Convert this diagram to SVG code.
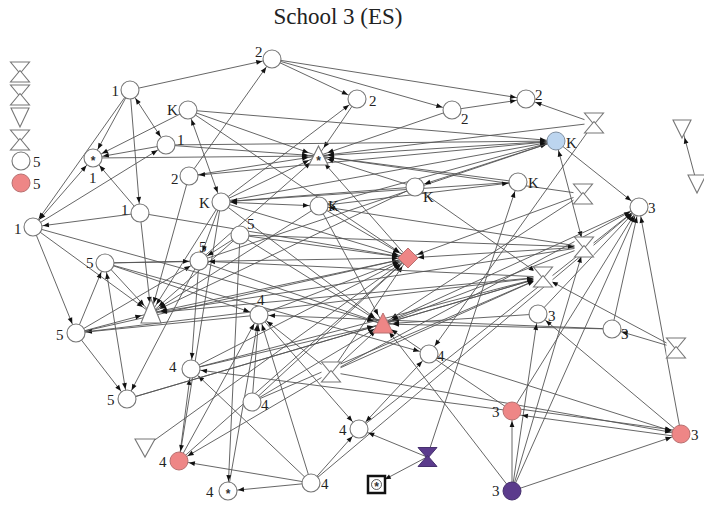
<svg xmlns="http://www.w3.org/2000/svg" xmlns:xlink="http://www.w3.org/1999/xlink" width="704" height="511" viewBox="0 0 704 511">
<style>
.c{fill:#fff;stroke:#777;stroke-width:1.1}
.p{fill:#ee8686;stroke:#b87070;stroke-width:1}
.bl{fill:#bcd5ef;stroke:#7f8fa0;stroke-width:1}
.pu{fill:#5b3b8c;stroke:#46306e;stroke-width:1}
.l{font-family:"Liberation Serif","Times New Roman",serif;font-size:15px;fill:#222}
.t{font-family:"Liberation Serif","Times New Roman",serif;font-size:23px;fill:#222}
.s{font-family:"Liberation Sans",Arial,sans-serif;font-size:12px;font-weight:bold;fill:#333;text-anchor:middle}
#edges line{stroke:#555;stroke-width:0.9;marker-end:url(#ah)}
#edges line.b{marker-start:url(#ah)}
</style>
<defs>
<marker id="ah" viewBox="-20 -5 30 10" refX="10" refY="0" markerWidth="30" markerHeight="10" markerUnits="userSpaceOnUse" orient="auto-start-reverse"><path d="M0,0L-6,-2.4L-6,2.4Z" fill="#111"/></marker>
<g id="hg"><rect x="-9.5" y="-10" width="19" height="20" fill="#fff"/><path class="c" d="M-9.5,-10H9.5L0,1.5Z"/><path class="c" d="M0,-1.5L9.5,10H-9.5Z"/></g>
</defs>
<rect width="704" height="511" fill="#fff"/>
<text class="t" x="338" y="24" text-anchor="middle">School 3 (ES)</text>
<g id="legend">
<use xlink:href="#hg" x="20" y="72"/>
<use xlink:href="#hg" x="20" y="95"/>
<path class="c" d="M11,108H29L20,127Z"/>
<use xlink:href="#hg" x="20" y="140"/>
<circle class="c" cx="21" cy="161" r="9"/><text class="l" x="33" y="167">5</text>
<circle class="p" cx="21" cy="183" r="9"/><text class="l" x="33" y="189">5</text>
</g>
<g id="edges">
<line x1="130" y1="90" x2="272" y2="59"/>
<line x1="189" y1="176" x2="272" y2="59"/>
<line x1="272" y1="59" x2="357" y2="99"/>
<line x1="272" y1="59" x2="452" y2="110"/>
<line x1="272" y1="59" x2="526" y2="99"/>
<line x1="452" y1="110" x2="526" y2="99"/>
<line x1="594" y1="123" x2="526" y2="99"/>
<line x1="357" y1="99" x2="318" y2="156"/>
<line x1="452" y1="110" x2="318" y2="156"/>
<line x1="221" y1="202" x2="357" y2="99"/>
<line x1="130" y1="90" x2="93" y2="158"/>
<line x1="130" y1="90" x2="33" y2="227"/>
<line class="b" x1="130" y1="90" x2="166" y2="145"/>
<line x1="130" y1="90" x2="140" y2="213"/>
<line x1="188" y1="110" x2="93" y2="158"/>
<line x1="188" y1="110" x2="318" y2="156"/>
<line x1="188" y1="110" x2="556" y2="141"/>
<line class="b" x1="188" y1="110" x2="221" y2="202"/>
<line x1="166" y1="145" x2="93" y2="158"/>
<line x1="166" y1="145" x2="318" y2="156"/>
<line x1="33" y1="227" x2="166" y2="145"/>
<line class="b" x1="33" y1="227" x2="93" y2="158"/>
<line x1="140" y1="213" x2="93" y2="158"/>
<line x1="140" y1="213" x2="33" y2="227"/>
<line x1="140" y1="213" x2="151" y2="313"/>
<line x1="140" y1="213" x2="408" y2="258"/>
<line x1="556" y1="141" x2="318" y2="156"/>
<line x1="594" y1="123" x2="318" y2="156"/>
<line x1="415" y1="187" x2="318" y2="156"/>
<line x1="518" y1="182" x2="318" y2="156"/>
<line x1="583" y1="194" x2="318" y2="156"/>
<line x1="189" y1="176" x2="318" y2="156"/>
<line x1="93" y1="158" x2="318" y2="156"/>
<line x1="221" y1="202" x2="318" y2="156"/>
<line x1="408" y1="258" x2="318" y2="156"/>
<line x1="556" y1="141" x2="189" y2="176"/>
<line x1="221" y1="202" x2="556" y2="141"/>
<line x1="166" y1="145" x2="556" y2="141"/>
<line x1="319" y1="206" x2="556" y2="141"/>
<line x1="199" y1="261" x2="556" y2="141"/>
<line x1="556" y1="141" x2="639" y2="207"/>
<line class="b" x1="556" y1="141" x2="584" y2="247"/>
<line x1="556" y1="141" x2="415" y2="187"/>
<line x1="415" y1="187" x2="221" y2="202"/>
<line class="b" x1="221" y1="202" x2="319" y2="206"/>
<line x1="518" y1="182" x2="221" y2="202"/>
<line x1="319" y1="206" x2="518" y2="182"/>
<line x1="221" y1="202" x2="408" y2="258"/>
<line x1="240" y1="235" x2="408" y2="258"/>
<line x1="105" y1="263" x2="408" y2="258"/>
<line x1="319" y1="206" x2="408" y2="258"/>
<line x1="259" y1="315" x2="408" y2="258"/>
<line x1="191" y1="369" x2="408" y2="258"/>
<line x1="331" y1="372" x2="408" y2="258"/>
<line x1="252" y1="402" x2="408" y2="258"/>
<line x1="583" y1="194" x2="408" y2="258"/>
<line x1="584" y1="247" x2="408" y2="258"/>
<line x1="76" y1="333" x2="408" y2="258"/>
<line x1="188" y1="110" x2="408" y2="258"/>
<line x1="179" y1="461" x2="408" y2="258"/>
<line x1="408" y1="258" x2="151" y2="313"/>
<line x1="33" y1="227" x2="151" y2="313"/>
<line x1="105" y1="263" x2="151" y2="313"/>
<line x1="76" y1="333" x2="151" y2="313"/>
<line x1="189" y1="176" x2="151" y2="313"/>
<line x1="221" y1="202" x2="151" y2="313"/>
<line x1="240" y1="235" x2="151" y2="313"/>
<line x1="319" y1="206" x2="151" y2="313"/>
<line x1="415" y1="187" x2="151" y2="313"/>
<line x1="543" y1="277" x2="151" y2="313"/>
<line x1="584" y1="247" x2="151" y2="313"/>
<line x1="199" y1="261" x2="383" y2="324"/>
<line x1="240" y1="235" x2="383" y2="324"/>
<line x1="612" y1="329" x2="259" y2="315"/>
<line x1="543" y1="277" x2="383" y2="324"/>
<line x1="538" y1="314" x2="383" y2="324"/>
<line x1="612" y1="329" x2="383" y2="324"/>
<line x1="583" y1="194" x2="383" y2="324"/>
<line x1="584" y1="247" x2="383" y2="324"/>
<line x1="639" y1="207" x2="383" y2="324"/>
<line x1="331" y1="372" x2="383" y2="324"/>
<line x1="252" y1="402" x2="383" y2="324"/>
<line x1="512" y1="411" x2="383" y2="324"/>
<line x1="512" y1="491" x2="383" y2="324"/>
<line x1="319" y1="206" x2="383" y2="324"/>
<line x1="221" y1="202" x2="383" y2="324"/>
<line x1="594" y1="123" x2="429" y2="354"/>
<line x1="105" y1="263" x2="429" y2="354"/>
<line class="b" x1="359" y1="429" x2="429" y2="354"/>
<line x1="429" y1="354" x2="681" y2="434"/>
<line x1="512" y1="411" x2="191" y2="369"/>
<line x1="331" y1="372" x2="681" y2="434"/>
<line x1="681" y1="434" x2="639" y2="207"/>
<line x1="612" y1="329" x2="639" y2="207"/>
<line x1="538" y1="314" x2="639" y2="207"/>
<line x1="512" y1="411" x2="639" y2="207"/>
<line x1="512" y1="491" x2="639" y2="207"/>
<line x1="311" y1="483" x2="639" y2="207"/>
<line x1="359" y1="429" x2="639" y2="207"/>
<line x1="681" y1="434" x2="538" y2="314"/>
<line x1="512" y1="491" x2="512" y2="411"/>
<line x1="512" y1="491" x2="538" y2="314"/>
<line x1="512" y1="491" x2="584" y2="247"/>
<line x1="512" y1="491" x2="681" y2="434"/>
<line x1="512" y1="408" x2="681" y2="431"/>
<line x1="681" y1="437" x2="512" y2="414"/>
<line x1="676" y1="348" x2="612" y2="329"/>
<line x1="676" y1="348" x2="543" y2="277"/>
<line x1="179" y1="461" x2="259" y2="315"/>
<line x1="228" y1="491" x2="259" y2="315"/>
<line x1="311" y1="483" x2="259" y2="315"/>
<line x1="252" y1="402" x2="259" y2="315"/>
<line x1="331" y1="372" x2="259" y2="315"/>
<line x1="259" y1="315" x2="359" y2="429"/>
<line x1="259" y1="315" x2="76" y2="333"/>
<line x1="105" y1="263" x2="259" y2="315"/>
<line x1="199" y1="261" x2="191" y2="369"/>
<line x1="179" y1="461" x2="191" y2="369"/>
<line x1="311" y1="483" x2="191" y2="369"/>
<line x1="127" y1="399" x2="383" y2="324"/>
<line x1="127" y1="399" x2="543" y2="277"/>
<line x1="240" y1="235" x2="228" y2="491"/>
<line x1="311" y1="483" x2="228" y2="491"/>
<line x1="311" y1="483" x2="179" y2="461"/>
<line x1="311" y1="483" x2="359" y2="429"/>
<line x1="427" y1="457" x2="359" y2="429"/>
<line x1="427" y1="457" x2="376" y2="484"/>
<line x1="427" y1="457" x2="518" y2="182"/>
<line x1="145" y1="447" x2="408" y2="258"/>
<line x1="331" y1="372" x2="179" y2="461"/>
<line x1="221" y1="202" x2="179" y2="461"/>
<line x1="105" y1="263" x2="199" y2="261"/>
<line x1="240" y1="235" x2="199" y2="261"/>
<line x1="221" y1="202" x2="199" y2="261"/>
<line x1="76" y1="333" x2="199" y2="261"/>
<line x1="76" y1="333" x2="105" y2="263"/>
<line class="b" x1="127" y1="399" x2="105" y2="263"/>
<line x1="76" y1="333" x2="127" y2="399"/>
<line x1="199" y1="261" x2="127" y2="399"/>
<line x1="33" y1="227" x2="76" y2="333"/>
<line x1="33" y1="227" x2="383" y2="324"/>
<line x1="76" y1="333" x2="543" y2="277"/>
<line x1="191" y1="369" x2="543" y2="277"/>
<line x1="252" y1="402" x2="543" y2="277"/>
<line x1="331" y1="372" x2="543" y2="277"/>
<line x1="415" y1="187" x2="543" y2="277"/>
<line x1="543" y1="277" x2="199" y2="261"/>
<line x1="240" y1="235" x2="584" y2="247"/>
<line x1="584" y1="247" x2="319" y2="206"/>
<line x1="191" y1="369" x2="383" y2="324"/>
<line x1="697" y1="184" x2="682" y2="128"/>
<line x1="331" y1="372" x2="639" y2="207"/>
<line x1="199" y1="261" x2="318" y2="156"/>
</g>
<g id="n1a"><circle class="c" cx="130" cy="90" r="9"/><text class="l" x="119" y="96" text-anchor="end">1</text></g>
<g id="n2a"><circle class="c" cx="272" cy="59" r="9"/><text class="l" x="255" y="57">2</text></g>
<g id="n2b"><circle class="c" cx="357" cy="99" r="9"/><text class="l" x="369" y="106">2</text></g>
<g id="n2c"><circle class="c" cx="452" cy="110" r="9"/><text class="l" x="461" y="124">2</text></g>
<g id="n2d"><circle class="c" cx="526" cy="99" r="9"/><text class="l" x="535" y="100">2</text></g>
<g id="hA"><use xlink:href="#hg" x="594" y="123"/></g>
<g id="kb"><circle class="bl" cx="556" cy="141" r="9"/><text class="l" x="566" y="148">K</text></g>
<g id="tdA"><path class="c" d="M673,120H691L682,138Z"/></g>
<g id="tdB"><path class="c" d="M688,175H706L697,193Z"/></g>
<g id="nKa"><circle class="c" cx="188" cy="110" r="9"/><text class="l" x="167" y="115">K</text></g>
<g id="n1b"><circle class="c" cx="166" cy="145" r="9"/><text class="l" x="177" y="145">1</text></g>
<g id="nS1"><circle class="c" cx="93" cy="158" r="9"/><text class="s" x="93" y="165">*</text><text class="l" x="89" y="183">1</text></g>
<g id="tS"><path class="c" d="M318.5,146L328,165H309Z"/><text class="s" x="318.5" y="165">*</text></g>
<g id="n2e"><circle class="c" cx="189" cy="176" r="9"/><text class="l" x="171" y="184">2</text></g>
<g id="nKd"><circle class="c" cx="221" cy="202" r="9"/><text class="l" x="199" y="208">K</text></g>
<g id="n1c"><circle class="c" cx="140" cy="213" r="9"/><text class="l" x="121" y="215">1</text></g>
<g id="n1d"><circle class="c" cx="33" cy="227" r="9"/><text class="l" x="14" y="234">1</text></g>
<g id="nKe"><circle class="c" cx="319" cy="206" r="9"/><text class="l" x="328" y="211">K</text></g>
<g id="nKb"><circle class="c" cx="415" cy="187" r="9"/><text class="l" x="423" y="202">K</text></g>
<g id="nKc"><circle class="c" cx="518" cy="182" r="9"/><text class="l" x="528" y="188">K</text></g>
<g id="hB"><use xlink:href="#hg" x="583" y="194"/></g>
<g id="n3a"><circle class="c" cx="639" cy="207" r="9"/><text class="l" x="648" y="213">3</text></g>
<g id="n5a"><circle class="c" cx="240" cy="235" r="9"/><text class="l" x="247" y="229">5</text></g>
<g id="n5b"><circle class="c" cx="199" cy="261" r="9"/><text class="l" x="199" y="252">5</text></g>
<g id="dR"><path class="p" d="M408,248L418,258L408,268L398,258Z"/></g>
<g id="hC"><use xlink:href="#hg" x="584" y="247"/></g>
<g id="n5c"><circle class="c" cx="105" cy="263" r="9"/><text class="l" x="86" y="268">5</text></g>
<g id="hD"><use xlink:href="#hg" x="543" y="277"/></g>
<g id="tW"><path class="c" d="M151,299L161,323H141Z"/></g>
<g id="n5d"><circle class="c" cx="76" cy="333" r="9"/><text class="l" x="56" y="340">5</text></g>
<g id="n4a"><circle class="c" cx="259" cy="315" r="9"/><text class="l" x="257" y="305">4</text></g>
<g id="tR"><path class="p" d="M383,313L393,333H373Z"/></g>
<g id="n3b"><circle class="c" cx="538" cy="314" r="9"/><text class="l" x="548" y="321">3</text></g>
<g id="n3c"><circle class="c" cx="612" cy="329" r="9"/><text class="l" x="621" y="339">3</text></g>
<g id="hE"><use xlink:href="#hg" x="676" y="348"/></g>
<g id="n4b"><circle class="c" cx="429" cy="354" r="9"/><text class="l" x="437" y="361">4</text></g>
<g id="hF"><use xlink:href="#hg" x="331" y="372"/></g>
<g id="n4c"><circle class="c" cx="191" cy="369" r="9"/><text class="l" x="169" y="372">4</text></g>
<g id="n5e"><circle class="c" cx="127" cy="399" r="9"/><text class="l" x="107" y="405">5</text></g>
<g id="n4d"><circle class="c" cx="252" cy="402" r="9"/><text class="l" x="261" y="410">4</text></g>
<g id="n3r1"><circle class="p" cx="512" cy="411" r="9"/><text class="l" x="492" y="417">3</text></g>
<g id="n3r2"><circle class="p" cx="681" cy="434" r="9"/><text class="l" x="691" y="440">3</text></g>
<g id="tdC"><path class="c" d="M135,439H155L145,457Z"/></g>
<g id="n4r"><circle class="p" cx="179" cy="461" r="9"/><text class="l" x="159" y="467">4</text></g>
<g id="n4e"><circle class="c" cx="359" cy="429" r="9"/><text class="l" x="339" y="435">4</text></g>
<g id="hP"><path class="pu" d="M418,447.5H437L427.5,458.5Z"/><path class="pu" d="M427.5,455.5L437,466.5H418Z"/></g>
<g id="sq"><rect x="368" y="476" width="17" height="17" fill="#fff" stroke="#111" stroke-width="2.5"/><circle cx="376.5" cy="484.5" r="5" fill="#fff" stroke="#333" stroke-width="0.8"/><text class="s" x="376.5" y="491">*</text></g>
<g id="n4f"><circle class="c" cx="228" cy="491" r="9"/><text class="s" x="228" y="498">*</text><text class="l" x="206" y="497">4</text></g>
<g id="n4g"><circle class="c" cx="311" cy="483" r="9"/><text class="l" x="321" y="489">4</text></g>
<g id="n3p"><circle class="pu" cx="512" cy="491" r="9"/><text class="l" x="492" y="496">3</text></g>
</svg>
